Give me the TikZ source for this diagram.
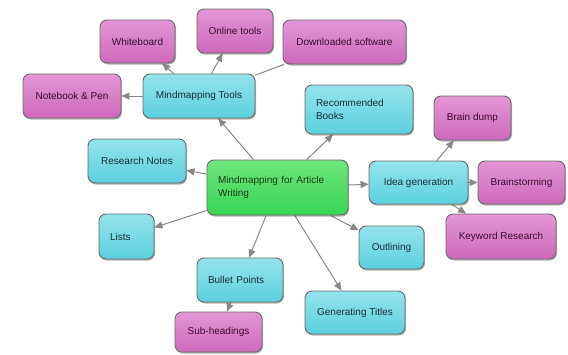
\documentclass[tikz,border=0pt]{standalone}
\usepackage{fontspec}
\setmainfont{Liberation Sans}
\usetikzlibrary{arrows.meta,shadows,backgrounds}
\pgfdeclarelayer{bottom}
\pgfsetlayers{bottom,background,main}
\definecolor{cyanfill}{HTML}{5CD0DE}
\definecolor{cyantop}{HTML}{94E3EC}
\definecolor{pinkfill}{HTML}{CF68BB}
\definecolor{pinktop}{HTML}{E296D6}
\definecolor{greenfill}{HTML}{36D653}
\definecolor{greentop}{HTML}{70E47E}
\definecolor{boxline}{HTML}{6A6A6A}
\definecolor{linkgray}{HTML}{888888}
\definecolor{cyantext}{HTML}{17303A}
\definecolor{pinktext}{HTML}{3A0E32}
\definecolor{greentext}{HTML}{163A12}
\tikzset{
  box/.style={draw=boxline, line width=0.9pt, rounded corners=7pt, inner sep=0pt,
    font=\fontsize{10}{12.5}\selectfont,
    drop shadow={shadow xshift=1pt, shadow yshift=-1.5pt, opacity=0.3, fill=black}},
  cyanbox/.style={box, top color=cyantop, middle color=cyanfill, bottom color=cyanfill, text=cyantext},
  pinkbox/.style={box, top color=pinktop, middle color=pinkfill, bottom color=pinkfill, text=pinktext},
  greenbox/.style={box, top color=greentop, middle color=greenfill, bottom color=greenfill, text=greentext},
  link/.style={draw=linkgray, line width=1pt, -{Triangle[length=8pt,width=7pt]}, color=linkgray},
  plainlink/.style={draw=linkgray, line width=1pt}
}
\begin{document}
\begin{tikzpicture}[x=1pt,y=-1pt]
\begin{pgfonlayer}{bottom}
\fill[white] (0,0) rectangle (568,354);
\end{pgfonlayer}
\useasboundingbox (0,0) rectangle (568,354);
% nodes
\node[greenbox, minimum width=141pt, minimum height=55pt, text width=119pt, align=left] (main) at (277.5,187.5) {Mindmapping for Article\\Writing};
\node[cyanbox, minimum width=112pt, minimum height=44pt] (mt) at (199,96) {Mindmapping Tools};
\node[pinkbox, minimum width=75pt, minimum height=43pt] (wb) at (137.5,41.5) {Whiteboard};
\node[pinkbox, minimum width=76pt, minimum height=44pt] (ot) at (235,31) {Online tools};
\node[pinkbox, minimum width=123pt, minimum height=44pt] (ds) at (344.5,42) {Downloaded software};
\node[pinkbox, minimum width=98pt, minimum height=44pt] (np) at (72,96) {Notebook \& Pen};
\node[cyanbox, minimum width=98pt, minimum height=44pt] (rn) at (137,161) {Research Notes};
\node[cyanbox, minimum width=108pt, minimum height=49pt, text width=86pt, align=left] (rb) at (359,109.5) {Recommended\\Books};
\node[pinkbox, minimum width=77pt, minimum height=44pt] (bd) at (472.5,118) {Brain dump};
\node[cyanbox, minimum width=99pt, minimum height=43pt] (ig) at (418.5,182.5) {Idea generation};
\node[pinkbox, minimum width=87pt, minimum height=43pt] (bs) at (521.5,182.5) {Brainstorming};
\node[pinkbox, minimum width=110pt, minimum height=45pt] (kr) at (501,236.5) {Keyword Research};
\node[cyanbox, minimum width=65pt, minimum height=43pt] (ol) at (391.5,247.5) {Outlining};
\node[cyanbox, minimum width=100pt, minimum height=43pt] (gt) at (355,312.5) {Generating Titles};
\node[cyanbox, minimum width=55pt, minimum height=45pt, text width=33pt, align=left] (li) at (126.5,236.5) {Lists};
\node[cyanbox, minimum width=86pt, minimum height=44pt, text width=64pt, align=left] (bp) at (240,280) {Bullet Points};
\node[pinkbox, minimum width=87pt, minimum height=40pt] (sh) at (218.5,332) {Sub-headings};
% connectors
\begin{scope}[on background layer]
\draw[link] (main) -- (mt);
\draw[link] (main) -- (rn);
\draw[link] (main) -- (li);
\draw[link] (main) -- (bp);
\draw[link] (main) -- (gt);
\draw[link] (main) -- (ol);
\draw[link] (main) -- (ig);
\draw[link] (main) -- (rb);
\draw[link] (mt) -- (wb);
\draw[link] (mt) -- (ot);
\draw[plainlink] (mt) -- (ds);
\draw[link] (mt) -- (np);
\draw[link] (ig) -- (bd);
\draw[link] (ig) -- (bs);
\draw[link] (ig) -- (kr);
\draw[link] (bp) -- (sh);
\end{scope}
\end{tikzpicture}
\end{document}
